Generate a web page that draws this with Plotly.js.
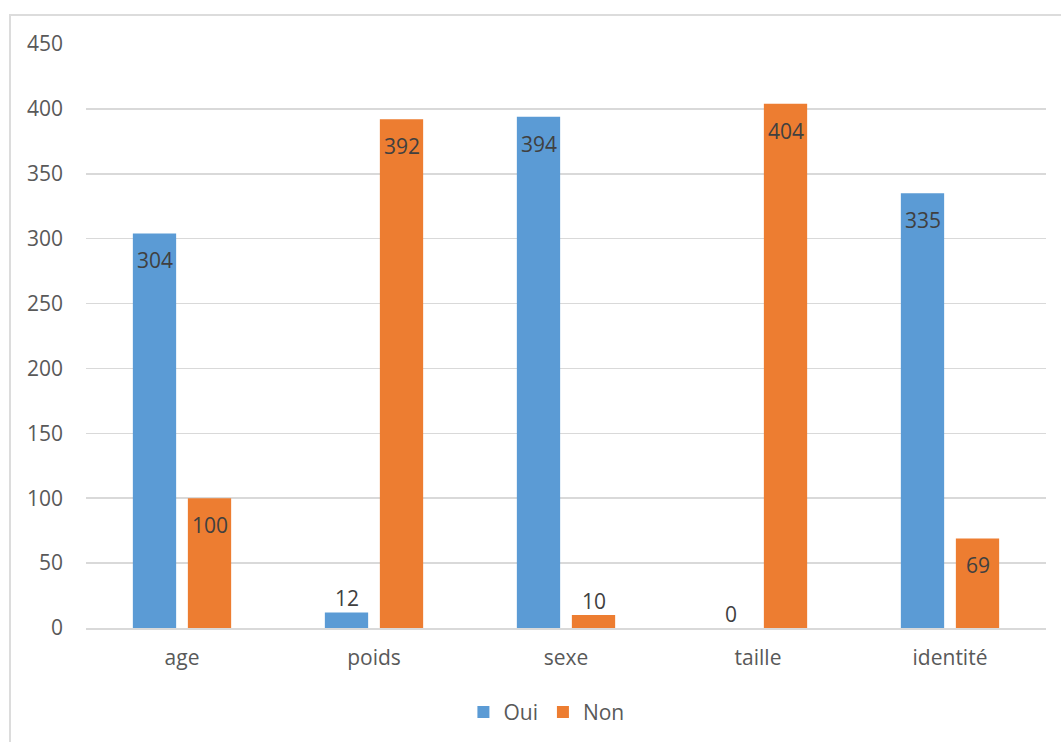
<!DOCTYPE html>
<html>
<head>
<meta charset="utf-8">
<script src="https://cdn.plot.ly/plotly-3.0.1.min.js"></script>
<style>
  html, body { margin: 0; padding: 0; background: #ffffff; overflow: hidden; }
  #frame { position: absolute; left: 9px; top: 14px; width: 1200px; height: 900px;
           border-left: 2px solid #dcdcdc; border-top: 2px solid #dcdcdc; }
  #chart { position: absolute; left: 0; top: 0; width: 1061px; height: 742px; }
</style>
</head>
<body>
<div id="frame"></div>
<div id="chart"></div>
<script>
const categories = ["age", "poids", "sexe", "taille", "identité"];
const seriesNames = ["Oui", "Non"];
const ouiValues = [304, 12, 394, 0, 335];
const nonValues = [100, 392, 10, 404, 69];
const yTicks = [0, 50, 100, 150, 200, 250, 300, 350, 400, 450];

const colors = ["#5b9bd5", "#ed7d31"];
const font = "'Open Sans', 'Noto Sans', sans-serif";
const bargap = 0.427;
const bargroupgap = 0.213;

const allSeries = [ouiValues, nonValues];
const traces = allSeries.map((vals, s) => ({
  type: "bar",
  name: seriesNames[s],
  x: categories,
  y: vals,
  marker: { color: colors[s] },
  hoverinfo: "x+y+name"
}));

// data labels: inside end when the bar is tall enough, otherwise above
const slot = (1 - bargap) / 2;
const annotations = [];
allSeries.forEach((vals, s) => {
  const off = (s - 0.5) * slot;
  vals.forEach((v, i) => {
    const inside = v >= 50;
    annotations.push({
      x: i + off, y: v, xref: "x", yref: "y",
      text: String(v), showarrow: false,
      font: { family: font, size: 21, color: "#404040" },
      yanchor: inside ? "middle" : "bottom",
      yshift: inside ? -27 : -2
    });
  });
});

const layout = {
  width: 1061, height: 742,
  margin: { l: 86, r: 15, t: 44, b: 114 },
  paper_bgcolor: "rgba(0,0,0,0)",
  plot_bgcolor: "rgba(0,0,0,0)",
  barmode: "group",
  bargap: bargap,
  bargroupgap: bargroupgap,
  font: { family: font, size: 21, color: "#595959" },
  xaxis: {
    type: "category",
    showgrid: false,
    showline: true, linecolor: "#d9d9d9", linewidth: 2,
    ticks: "", ticklabelstandoff: 10,
    tickfont: { family: font, size: 21, color: "#595959" }
  },
  yaxis: {
    range: [0, 450],
    tickvals: yTicks,
    ticktext: yTicks.map(String),
    showgrid: true, gridcolor: "#d9d9d9", gridwidth: 1.5,
    zeroline: false, showline: false,
    ticks: "", ticklabelstandoff: 22,
    tickfont: { family: font, size: 21, color: "#595959" }
  },
  showlegend: true,
  legend: {
    orientation: "h",
    xref: "container", yref: "container",
    x: 0.515, xanchor: "center",
    y: 0.04, yanchor: "middle",
    font: { family: font, size: 21, color: "#595959" },
    itemwidth: 30, itemclick: false, traceorder: "normal"
  },
  annotations: annotations
};

Plotly.newPlot("chart", traces, layout, { displayModeBar: false, staticPlot: true });
</script>
</body>
</html>
